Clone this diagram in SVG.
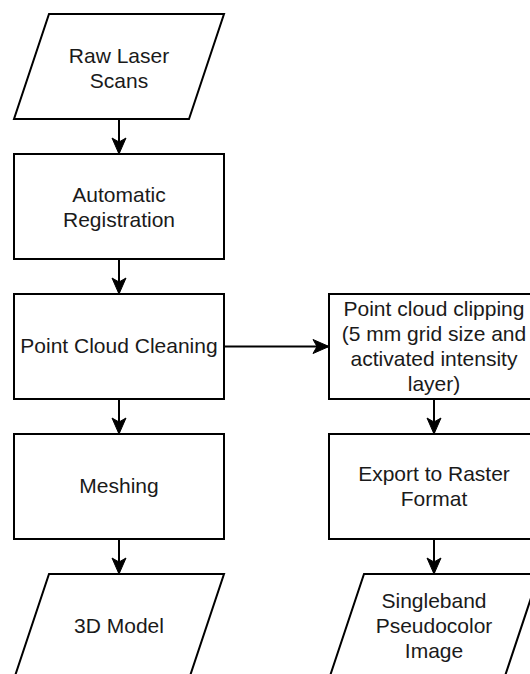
<svg xmlns="http://www.w3.org/2000/svg" width="530" height="674" viewBox="0 0 530 674">
<style>
.s{fill:#fff;stroke:#000;stroke-width:2}
.t{font-family:"Liberation Sans",Arial,sans-serif;font-size:21px;fill:#1a1a1a;text-anchor:middle}
.c{fill:none;stroke:#000;stroke-width:2}
</style>
<defs>
<marker id="a" markerUnits="userSpaceOnUse" markerWidth="18" markerHeight="16" viewBox="0 0 18 16" refX="17" refY="8" orient="auto">
<path d="M1,1 L17,8 L1,15 L5,8 Z" fill="#000" stroke="#000" stroke-width="1"/>
</marker>
</defs>
<rect width="530" height="674" fill="#fff"/>
<g id="connectors">
<line class="c" x1="119" y1="119" x2="119" y2="154" marker-end="url(#a)"/>
<line class="c" x1="119" y1="259" x2="119" y2="294" marker-end="url(#a)"/>
<line class="c" x1="119" y1="399" x2="119" y2="434" marker-end="url(#a)"/>
<line class="c" x1="119" y1="539" x2="119" y2="574" marker-end="url(#a)"/>
<line class="c" x1="224" y1="346.5" x2="329" y2="346.5" marker-end="url(#a)"/>
<line class="c" x1="434" y1="399" x2="434" y2="434" marker-end="url(#a)"/>
<line class="c" x1="434" y1="539" x2="434" y2="574" marker-end="url(#a)"/>
</g>
<g id="raw">
<polygon class="s" points="49,14 224,14 189,119 14,119"/>
<text class="t" x="119" y="63">Raw Laser</text>
<text class="t" x="119" y="88">Scans</text>
</g>
<g id="registration">
<rect class="s" x="14" y="154" width="210" height="105"/>
<text class="t" x="119" y="202">Automatic</text>
<text class="t" x="119" y="227">Registration</text>
</g>
<g id="cleaning">
<rect class="s" x="14" y="294" width="210" height="105"/>
<text class="t" x="119" y="353">Point Cloud Cleaning</text>
</g>
<g id="meshing">
<rect class="s" x="14" y="434" width="210" height="105"/>
<text class="t" x="119" y="493">Meshing</text>
</g>
<g id="model">
<polygon class="s" points="49,574 224,574 189,679 14,679"/>
<text class="t" x="119" y="633">3D Model</text>
</g>
<g id="clipping">
<rect class="s" x="329" y="294" width="210" height="105"/>
<text class="t" x="434" y="316">Point cloud clipping</text>
<text class="t" x="434" y="341">(5 mm grid size and</text>
<text class="t" x="434" y="366">activated intensity</text>
<text class="t" x="434" y="391">layer)</text>
</g>
<g id="export">
<rect class="s" x="329" y="434" width="210" height="105"/>
<text class="t" x="434" y="481">Export to Raster</text>
<text class="t" x="434" y="506">Format</text>
</g>
<g id="image">
<polygon class="s" points="364,574 539,574 504,679 329,679"/>
<text class="t" x="434" y="608">Singleband</text>
<text class="t" x="434" y="633">Pseudocolor</text>
<text class="t" x="434" y="658">Image</text>
</g>
</svg>
